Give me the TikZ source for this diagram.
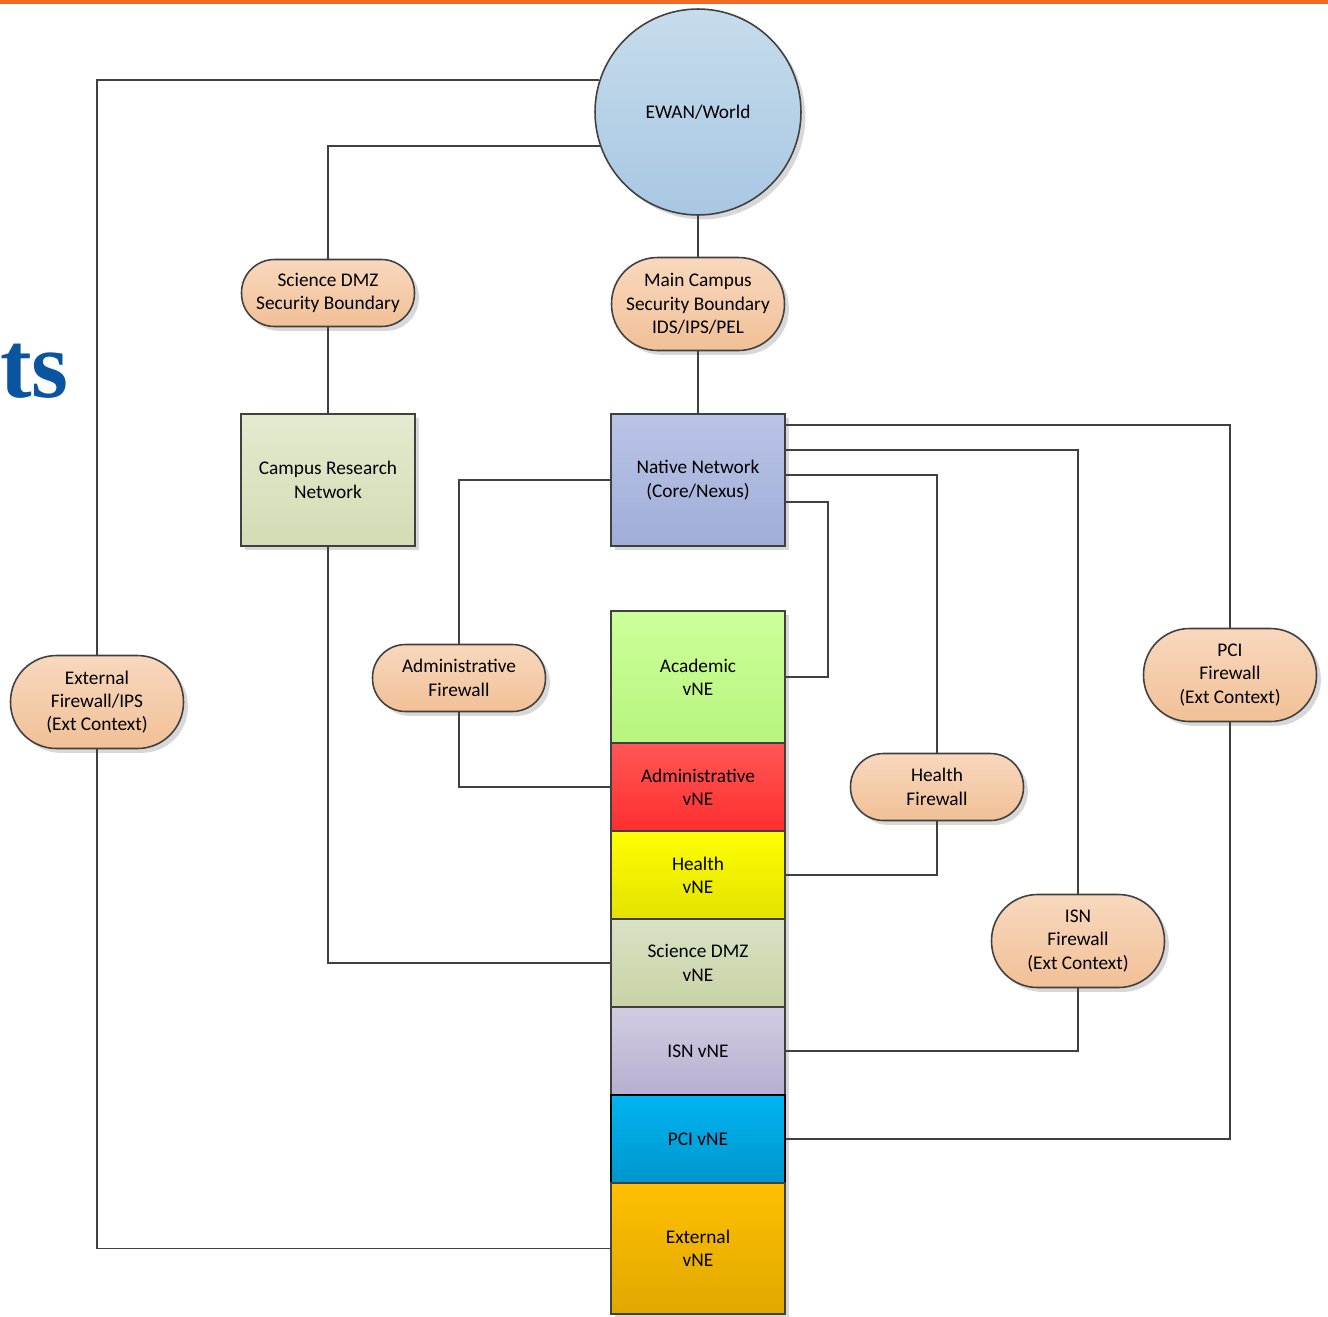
\documentclass[tikz,border=0pt]{standalone}
\usepackage{fontspec}
\setmainfont{Carlito}
\newfontfamily\titlefont{Liberation Serif}
\usepackage{xcolor}
\usetikzlibrary{positioning,shadows}

\definecolor{linegray}{HTML}{404040}
\definecolor{barorange}{HTML}{F26A24}
\definecolor{titleblue}{HTML}{0B55A0}
\definecolor{ewantop}{HTML}{C6DCEC}
\definecolor{ewanbot}{HTML}{A8C7E2}
\definecolor{fwtop}{HTML}{F8D8BE}
\definecolor{fwbot}{HTML}{F1C096}
\definecolor{crntop}{HTML}{E4EACF}
\definecolor{crnbot}{HTML}{D3DCB4}
\definecolor{nattop}{HTML}{BBC4E6}
\definecolor{natbot}{HTML}{9FADD8}
\definecolor{acadtop}{HTML}{CCFF99}
\definecolor{acadbot}{HTML}{B8F47E}
\definecolor{admtop}{HTML}{FF5757}
\definecolor{admbot}{HTML}{FF2E2E}
\definecolor{hlttop}{HTML}{FFFF00}
\definecolor{hltbot}{HTML}{E2E200}
\definecolor{dmztop}{HTML}{D9E2C4}
\definecolor{dmzbot}{HTML}{C7D3A6}
\definecolor{isntop}{HTML}{D2CCE2}
\definecolor{isnbot}{HTML}{B8AFD1}
\definecolor{pcitop}{HTML}{00B4F2}
\definecolor{pcibot}{HTML}{0096CC}
\definecolor{exttop}{HTML}{FFC000}
\definecolor{extbot}{HTML}{E0A800}

\begin{document}
\begin{tikzpicture}[x=0.02cm, y=-0.02cm,
    font=\fontsize{11}{13.3}\selectfont,
    link/.style={draw=linegray, line width=1.1pt},
    shade/.style={drop shadow={opacity=0.3, shadow xshift=2.5pt, shadow yshift=-2.5pt}},
    firewall/.style={rectangle, draw=linegray, line width=0.9pt, top color=fwtop, bottom color=fwbot,
        minimum width=3.46cm, minimum height=1.34cm, rounded corners=0.66cm, align=center, inner sep=1pt, shade},
    firewalltall/.style={firewall, minimum height=1.86cm, rounded corners=0.92cm},
    box/.style={rectangle, draw=linegray, line width=0.9pt, minimum width=3.48cm, minimum height=2.64cm, align=center, shade},
    vne/.style={box, minimum height=1.76cm},
]
\clip (0,0) rectangle (1328,1316);
\fill[white] (0,0) rectangle (1328,1316);
\fill[barorange] (0,0) rectangle (1328,4);
\node[anchor=base west, font=\titlefont\bfseries\fontsize{54}{54}\selectfont, text=titleblue, inner sep=0pt] (title) at (0,397) {ts};

% Top
\node[circle, draw=linegray, line width=0.9pt, top color=ewantop, bottom color=ewanbot, minimum size=4.12cm, shade] (ewan) at (698,112) {EWAN/World};
\node[firewall] (dmzsb) at (328,293) {Science DMZ\\Security Boundary};
\node[firewalltall] (mainsb) at (698,304) {Main Campus\\Security Boundary\\IDS/IPS/PEL};
\node[box, top color=crntop, bottom color=crnbot] (crn) at (328,480) {Campus Research\\Network};
\node[box, top color=nattop, bottom color=natbot] (native) at (698,480) {Native Network\\(Core/Nexus)};

% Firewalls
\node[firewalltall] (extfw) at (97,702) {External\\Firewall/IPS\\(Ext Context)};
\node[firewall] (admfw) at (459,678) {Administrative\\Firewall};
\node[firewall] (hltfw) at (937,787) {Health\\Firewall};
\node[firewalltall] (isnfw) at (1078,941) {ISN\\Firewall\\(Ext Context)};
\node[firewalltall] (pcifw) at (1230,675) {PCI\\Firewall\\(Ext Context)};

% vNE stack
\node[box, top color=acadtop, bottom color=acadbot] (acadvne) at (698,677) {Academic\\vNE};
\node[vne, top color=admtop, bottom color=admbot] (admvne) at (698,787) {Administrative\\vNE};
\node[vne, top color=hlttop, bottom color=hltbot] (hltvne) at (698,875) {Health\\vNE};
\node[vne, top color=dmztop, bottom color=dmzbot] (dmzvne) at (698,963) {Science DMZ\\vNE};
\node[vne, top color=isntop, bottom color=isnbot] (isnvne) at (698,1051) {ISN vNE};
\node[vne, draw=black, top color=pcitop, bottom color=pcibot] (pcivne) at (698,1139) {PCI vNE};
\node[box, minimum height=2.62cm, top color=exttop, bottom color=extbot] (extvne) at (698,1248.5) {External\\vNE};

% Lanes
\coordinate (acadlane) at (828,502);
\coordinate (hltlane) at (937,475);
\coordinate (isnlane) at (1078,450);
\coordinate (pcilane) at (1230,425);

% Links
\draw[link] (ewan.162) -| (extfw.north);
\draw[link] (extfw.south) |- (extvne.west);
\draw[link] (ewan.199) -| (dmzsb.north);
\draw[link] (dmzsb) -- (crn);
\draw[link] (crn.south) |- (dmzvne.west);
\draw[link] (ewan) -- (mainsb);
\draw[link] (mainsb) -- (native);
\draw[link] (native.west) -| (admfw.north);
\draw[link] (admfw.south) |- (admvne.west);
\draw[link] (native.east |- acadlane) -- (acadlane) |- (acadvne.east);
\draw[link] (native.east |- hltlane) -| (hltfw.north);
\draw[link] (hltfw.south) |- (hltvne.east);
\draw[link] (native.east |- isnlane) -| (isnfw.north);
\draw[link] (isnfw.south) |- (isnvne.east);
\draw[link] (native.east |- pcilane) -| (pcifw.north);
\draw[link] (pcifw.south) |- (pcivne.east);
\end{tikzpicture}
\end{document}
